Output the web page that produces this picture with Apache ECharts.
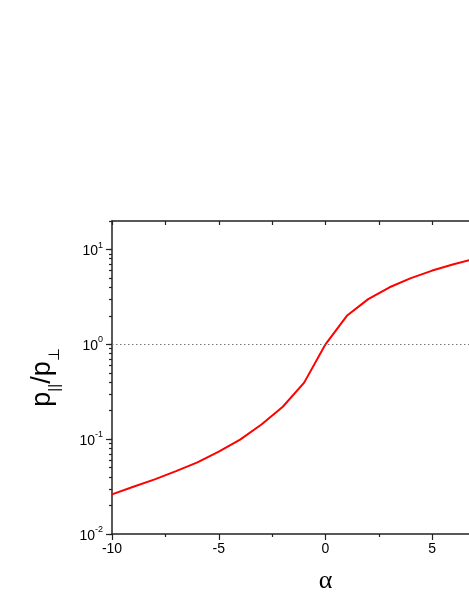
<!DOCTYPE html>
<html>
<head>
<meta charset="utf-8">
<script src="https://cdn.jsdelivr.net/npm/echarts@6/dist/echarts.min.js"></script>
<style>
html,body{margin:0;padding:0;background:#fff;}
#chart{width:469px;height:607px;}
</style>
</head>
<body>
<div id="chart"></div>
<script>
// Data
const alpha = [-10,-9,-8,-7,-6,-5,-4,-3,-2,-1,0,1,2,3,4,5,6,7,8,9,10];
const ratio = [0.0262,0.0315,0.0377,0.046,0.057,0.074,0.099,0.143,0.22,0.395,1,2,3,4,5,6,7,8,9,10,11];
const xTicks = [-10,-5,0,5,10];
const yMajorTicks = [0.01,0.1,1,10];
const yMinorTicks = [0.02,0.03,0.04,0.05,0.06,0.07,0.08,0.09,0.2,0.3,0.4,0.5,0.6,0.7,0.8,0.9,2,3,4,5,6,7,8,9,20];
const yAllTicks = yMajorTicks.concat(yMinorTicks).sort((a, b) => a - b);
const refLineValue = 1;

const chart = echarts.init(document.getElementById('chart'), null, {renderer:'canvas'});
const axisColor = '#222';
const fontFam = '"Liberation Sans", Arial, sans-serif';

const option = {
  backgroundColor: '#fff',
  animation: false,
  grid: {left: 112, top: 221, width: 427, height: 313, containLabel: false, outerBoundsMode: 'none'},
  xAxis: [{
    type: 'value', min: -10, max: 10, interval: 5, position: 'bottom',
    name: 'α', nameLocation: 'middle', nameGap: 34,
    nameTextStyle: {fontFamily: '"Liberation Serif", "DejaVu Serif", serif', fontSize: 26, color: '#000'},
    axisLine: {show: true, onZero: false, lineStyle: {color: axisColor, width: 1.5}},
    axisTick: {show: true, inside: false, length: 6, lineStyle: {color: axisColor, width: 1.2}},
    minorTick: {show: true, splitNumber: 2, length: 3, lineStyle: {color: axisColor, width: 1.2}},
    axisLabel: {fontFamily: fontFam, fontSize: 14, color: '#000', margin: 8,
      customValues: xTicks, formatter: v => String(v)},
    splitLine: {show: false}
  }, {
    type: 'value', min: -10, max: 10, interval: 2.5, position: 'top',
    axisLine: {show: true, onZero: false, lineStyle: {color: axisColor, width: 1.5}},
    axisTick: {show: true, inside: true, length: 4, lineStyle: {color: axisColor, width: 1.2}},
    axisLabel: {show: false},
    splitLine: {show: false}
  }],
  yAxis: [{
    type: 'log', logBase: 10, min: 0.01, max: 20, position: 'left',
    name: '{p|p}{sub|||}{p|/p}{sub|⊥}', nameLocation: 'middle', nameGap: 56, nameRotate: 90,
    nameTextStyle: {
      rich: {
        p: {fontFamily: fontFam, fontSize: 27, color: '#000', verticalAlign: 'bottom', lineHeight: 30},
        sub: {fontFamily: fontFam, fontSize: 15, color: '#000', verticalAlign: 'bottom', lineHeight: 30, padding: [0,0,-6,0]}
      }
    },
    axisLine: {show: true, onZero: false, lineStyle: {color: axisColor, width: 1.5}},
    axisTick: {show: true, inside: false, length: 6, customValues: yMajorTicks, lineStyle: {color: axisColor, width: 1.2}},
    axisLabel: {
      customValues: yMajorTicks, margin: 9,
      formatter: v => '{b|10}{s|' + Math.round(Math.log10(v)) + '}',
      rich: {
        b: {fontFamily: fontFam, fontSize: 14, color: '#000', verticalAlign: 'bottom', lineHeight: 18},
        s: {fontFamily: fontFam, fontSize: 9, color: '#000', verticalAlign: 'top', lineHeight: 18, padding: [0,0,6,0]}
      }
    },
    splitLine: {show: false}
  }, {
    type: 'log', logBase: 10, min: 0.01, max: 20, position: 'right', offset: -427,
    axisLine: {show: false, onZero: false},
    axisTick: {show: true, inside: true, length: 3, customValues: yAllTicks, lineStyle: {color: axisColor, width: 1.2}},
    axisLabel: {show: false},
    splitLine: {show: false}
  }],
  series: [{
    type: 'line',
    xAxisIndex: 0, yAxisIndex: 0,
    data: alpha.map((a, i) => [a, ratio[i]]),
    showSymbol: false,
    lineStyle: {color: '#ff0000', width: 2},
    itemStyle: {color: '#ff0000'},
    clip: true,
    markLine: {
      silent: true, symbol: 'none', animation: false,
      label: {show: false},
      lineStyle: {color: '#777', type: [1.5, 2.5], width: 1},
      data: [{yAxis: refLineValue}]
    }
  }, {
    type: 'line',
    xAxisIndex: 0, yAxisIndex: 1,
    data: [],
    showSymbol: false
  }]
};
chart.setOption(option);
</script>
</body>
</html>
